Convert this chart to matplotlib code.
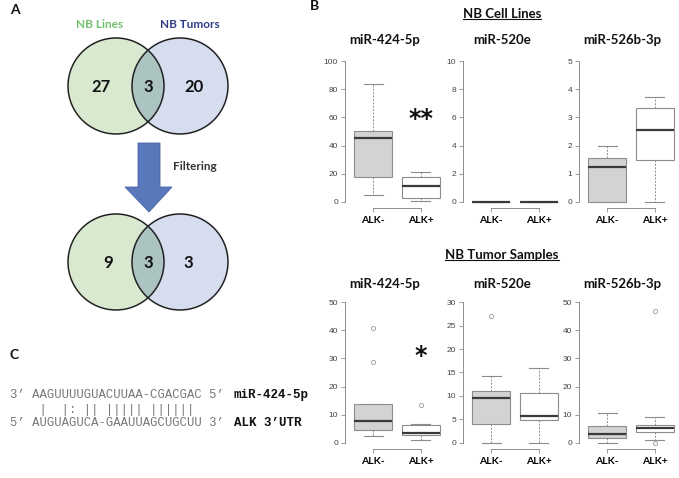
import matplotlib
matplotlib.use("Agg")
import matplotlib.pyplot as plt
from matplotlib.patches import Circle, Polygon
from matplotlib.lines import Line2D

W, H = 679, 478

# ---- data ----
venn_sets = ["NB Lines", "NB Tumors"]
venn_before = [27, 3, 20]     # lines only, shared, tumors only
venn_after = [9, 3, 3]

groups = ["ALK-", "ALK+"]
mirnas = ["miR-424-5p", "miR-520e", "miR-526b-3p"]

# box stats: whislo, q1, med, q3, whishi
cell_424_neg = [4.7, 17.7, 45.6, 50.1, 83.9]
cell_424_pos = [0.7, 2.8, 11.1, 17.7, 21.0]
cell_520_neg = [0, 0, 0, 0, 0]
cell_520_pos = [0, 0, 0, 0, 0]
cell_526_neg = [0, 0, 1.24, 1.57, 2.0]
cell_526_pos = [0, 1.48, 2.54, 3.33, 3.72]

tum_424_neg = [2.4, 4.7, 7.7, 13.9, 13.9]
tum_424_pos = [0.9, 2.7, 3.7, 6.3, 6.9]
tum_520_neg = [0, 4.1, 9.6, 11.0, 14.3]
tum_520_pos = [0, 4.8, 5.8, 10.6, 16.0]
tum_526_neg = [0, 1.7, 3.3, 6.1, 10.8]
tum_526_pos = [0.9, 3.9, 5.2, 6.5, 9.2]

tum_424_neg_out = [28.7, 40.8]
tum_424_pos_out = [13.4]
tum_520_neg_out = [27.0]
tum_526_pos_out = [0.0, 46.8]

cell_ticks = [(0, 100, 20), (0, 10, 2), (0, 5, 1)]
tum_ticks = [(0, 50, 10), (0, 30, 5), (0, 50, 10)]

# significance marks: (row, col, text, y value)
signif = [(0, 0, "**", 59), (1, 0, "*", 31)]

seq_mir = "3\u2019 AAGUUUUGUACUUAA-CGACGAC 5\u2019"
seq_pair = "    |  |: || ||||| ||||||"
seq_alk = "5\u2019 AUGUAGUCA-GAAUUAGCUGCUU 3\u2019"
seq_names = ["miR-424-5p", "ALK 3\u2019UTR"]

TITLE_FONT = "Lato"


def fx(px):
    return px / W


def fy(py):
    return 1 - py / H


fig = plt.figure(figsize=(W / 100, H / 100), dpi=100)

# ---- panel A / C drawn on a pixel overlay ----
ov = fig.add_axes([0, 0, 1, 1])
ov.set_xlim(0, W)
ov.set_ylim(H, 0)
ov.axis("off")

green = "#d9e9d0"
blue = "#d5ddee"
mid = "#abc3c1"


def venn(cy, counts, xs):
    left = Circle((116, cy), 48, facecolor=green, edgecolor="none")
    right = Circle((180, cy), 48, facecolor=blue, edgecolor="none")
    ov.add_patch(left)
    ov.add_patch(right)
    clip = Circle((116, cy), 48, transform=ov.transData)
    both = Circle((180, cy), 48, facecolor=mid, edgecolor="none")
    ov.add_patch(both)
    both.set_clip_path(clip)
    for cx in (116, 180):
        ov.add_patch(Circle((cx, cy), 48, fill=False, edgecolor="#222222", lw=1.1))
    for x, n in zip(xs, counts):
        ov.text(x, cy + 1, str(n), ha="center", va="center", fontsize=12,
                fontweight="bold", family=TITLE_FONT, color="#111111")


venn(86, venn_before, [101, 148, 194])
venn(262, venn_after, [108, 148, 188])

ov.text(100, 24, venn_sets[0], ha="center", va="center", fontsize=8.5,
        fontweight="bold", family=TITLE_FONT, color="#72bf6c")
ov.text(190, 24, venn_sets[1], ha="center", va="center", fontsize=8.5,
        fontweight="bold", family=TITLE_FONT, color="#2e3d86")

arrow = Polygon([(138, 143), (160, 143), (160, 187), (172, 187), (149, 212),
                 (125, 187), (138, 187)], closed=True,
                facecolor="#5977bb", edgecolor="#4a66a8", lw=0.6)
ov.add_patch(arrow)
ov.text(173, 166, "Filtering", ha="left", va="center", fontsize=8.5,
        fontweight="bold", family=TITLE_FONT, color="#333333")

for lab, x, y in [("A", 10, 10), ("B", 310, 6), ("C", 10, 355)]:
    ov.text(x, y, lab, ha="left", va="center", fontsize=10, fontweight="bold",
            family=TITLE_FONT, color="#111111")

mono = "Liberation Mono"
for txt, y in [(seq_mir, 395), (seq_pair, 410), (seq_alk, 423)]:
    ov.text(10, y, txt, ha="left", va="center", fontsize=8.8, family=mono,
            color="#777777")
for txt, y in zip(seq_names, [395, 423]):
    ov.text(234, y, txt, ha="left", va="center", fontsize=9.0, family=mono,
            fontweight="bold", color="#111111")

# ---- panel B boxplots ----
rows = [
    (55.4, [(cell_424_neg, []), (cell_424_pos, [])],
     [(cell_520_neg, []), (cell_520_pos, [])],
     [(cell_526_neg, []), (cell_526_pos, [])]),
    (296.4, [(tum_424_neg, tum_424_neg_out), (tum_424_pos, tum_424_pos_out)],
     [(tum_520_neg, tum_520_neg_out), (tum_520_pos, [])],
     [(tum_526_neg, []), (tum_526_pos, tum_526_pos_out)]),
]
ticks_rows = [cell_ticks, tum_ticks]
lefts = [345, 463, 579]
ax_w, ax_h = 104, 152.2
edge = "#8c8c8c"

for r, row in enumerate(rows):
    top = row[0]
    for c, pair in enumerate(row[1:]):
        ax = fig.add_axes([fx(lefts[c]), fy(top + ax_h), ax_w / W, ax_h / H])
        ax.patch.set_alpha(0)
        stats = []
        for (s, out), g in zip(pair, groups):
            stats.append(dict(whislo=s[0], q1=s[1], med=s[2], q3=s[3],
                              whishi=s[4], fliers=out, label=g))
        bp = ax.bxp(stats, positions=[1, 2], widths=0.8, patch_artist=True,
                    showfliers=True,
                    boxprops=dict(edgecolor=edge, lw=0.8),
                    medianprops=dict(color="#3a3a3a", lw=1.6),
                    whiskerprops=dict(color=edge, lw=0.7, ls=(0, (2, 1.5))),
                    capprops=dict(color=edge, lw=0.8),
                    flierprops=dict(marker="o", markersize=3,
                                    markerfacecolor="none",
                                    markeredgecolor="#999999", mew=0.6))
        for patch, fc in zip(bp["boxes"], ["#d3d3d3", "white"]):
            patch.set_facecolor(fc)
        lo, hi, step = ticks_rows[r][c]
        ext = 0.04 * (hi - lo)
        ax.set_ylim(lo - ext, hi + ext)
        ax.set_xlim(0.4, 2.6)
        ax.set_yticks(range(lo, hi + 1, step))
        ax.spines["top"].set_visible(False)
        ax.spines["right"].set_visible(False)
        ax.spines["left"].set_bounds(lo, hi)
        ax.spines["bottom"].set_bounds(1, 2)
        for sp in ("left", "bottom"):
            ax.spines[sp].set_color(edge)
            ax.spines[sp].set_linewidth(0.7)
        ax.tick_params(axis="y", length=3, width=0.6, color=edge, pad=2,
                       labelsize=6, labelcolor="#444444")
        ax.tick_params(axis="x", length=3, width=0.6, color=edge, pad=3)
        for t in ax.get_yticklabels():
            t.set_family("Liberation Sans")
        ax.set_xticks([1, 2])
        ax.set_xticklabels(groups, fontsize=7.5, fontweight="bold",
                           family=TITLE_FONT)
        for sr, sc, txt, yv in signif:
            if sr == r and sc == c:
                ax.text(2, yv, txt, ha="center", va="center", fontsize=17,
                        fontweight="bold", color="#111111")

title_y = [40, 284]
title_x = [385, 502, 622]
for r in range(2):
    for c in range(3):
        fig.text(fx(title_x[c]), fy(title_y[r]), mirnas[c], ha="center",
                 va="center", fontsize=9.5, fontweight="bold",
                 family=TITLE_FONT, color="#111111")

rend = fig.canvas.get_renderer()
for txt, py in [("NB Cell Lines", 14), ("NB Tumor Samples", 255)]:
    t = fig.text(fx(502), fy(py), txt, ha="center", va="center", fontsize=9.5,
                 fontweight="bold", family=TITLE_FONT, color="#111111")
    bb = t.get_window_extent(renderer=rend).transformed(fig.transFigure.inverted())
    uy = bb.y0 + 0.3 * (bb.y1 - bb.y0) * 0.25
    fig.add_artist(Line2D([bb.x0, bb.x1], [uy, uy], transform=fig.transFigure,
                          color="#111111", lw=0.8))

fig.savefig("out.png", dpi=100)
